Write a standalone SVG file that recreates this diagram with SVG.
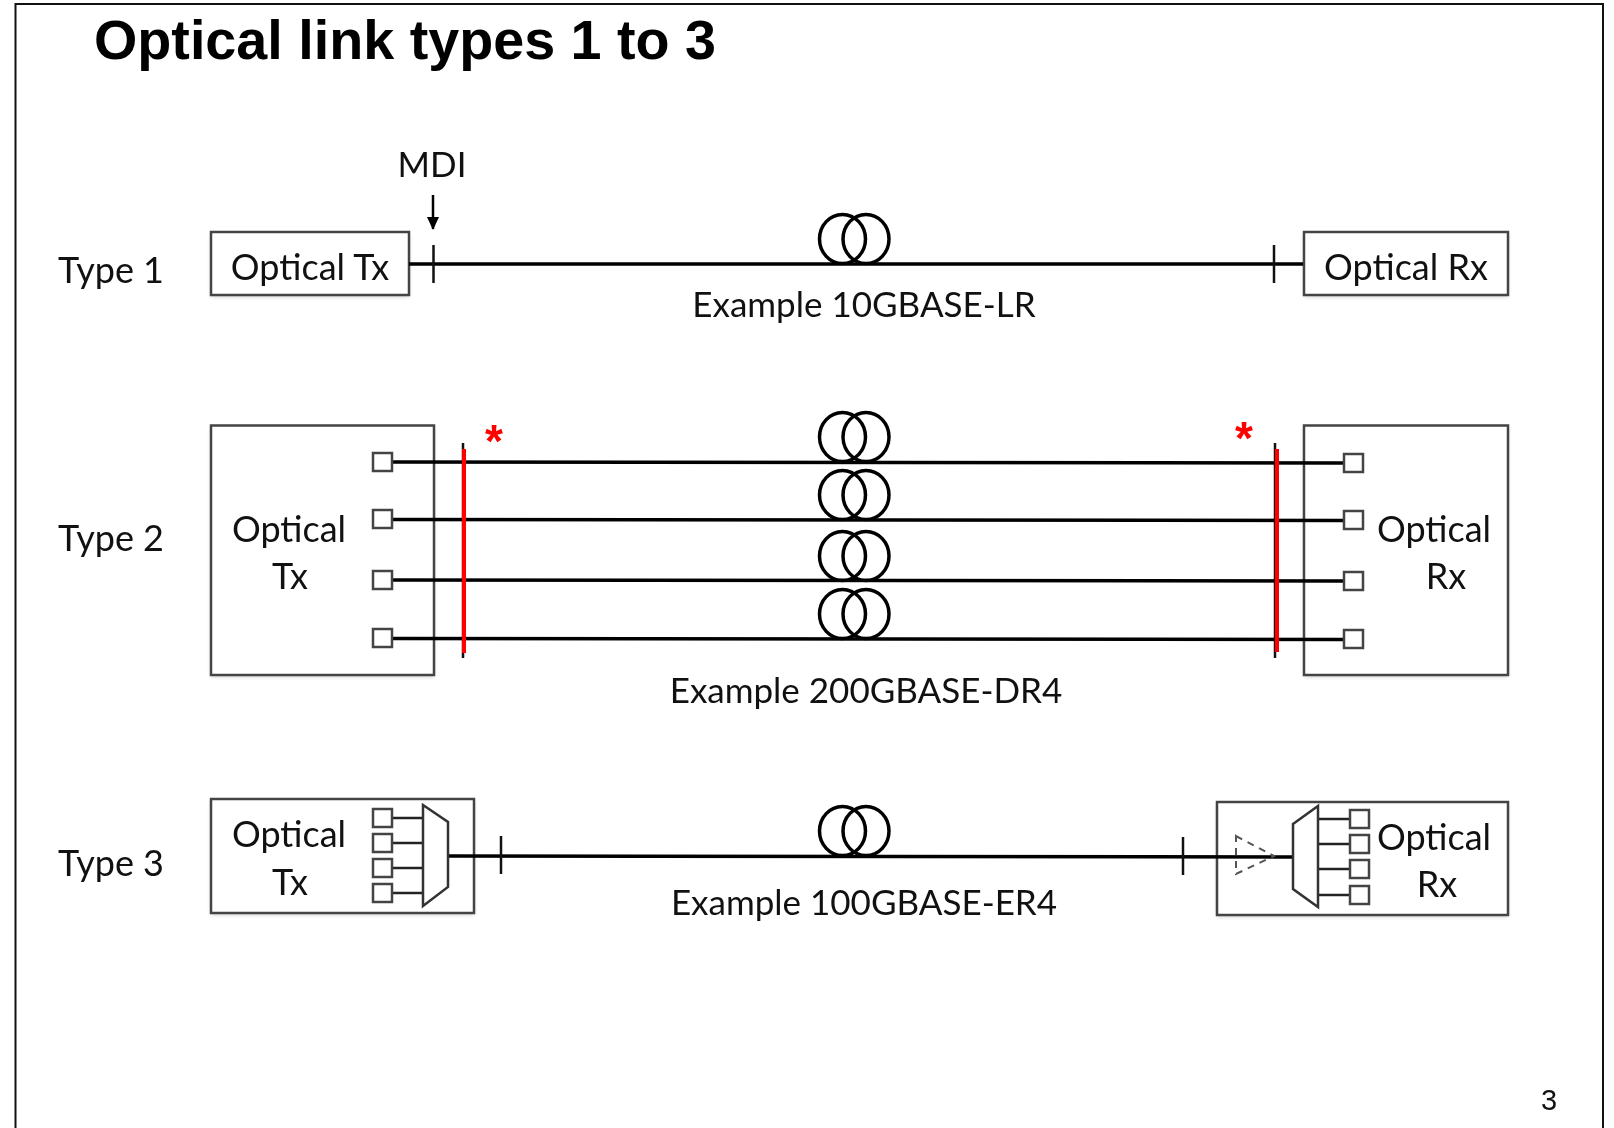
<svg xmlns="http://www.w3.org/2000/svg" width="1614" height="1128" viewBox="0 0 1614 1128">
<style>
text{font-family:"Lato","Liberation Sans",sans-serif;font-size:35px;fill:#111}
.l{font-size:36px}
.m{text-anchor:middle}
.box{fill:#fff;stroke:#444;stroke-width:2.500}
.bs{fill:#000;opacity:.18;filter:url(#sh)}
.sq{fill:#fff;stroke:#444;stroke-width:2.500}
.mux{fill:#fff;stroke:#333;stroke-width:2.500}
.f{stroke:#000;stroke-width:3.500;fill:none}
.t{stroke:#111;stroke-width:2.500;fill:none}
.s{stroke:#222;stroke-width:2.500;fill:none}
.r{stroke:#f00;stroke-width:4;fill:none}
.c{fill:none;stroke:#000;stroke-width:3.500}
.star{fill:#f00;font-family:"Liberation Sans",sans-serif;font-weight:bold;font-size:46px}
</style>
<defs>
<filter id="sh" x="-5%" y="-5%" width="110%" height="115%" color-interpolation-filters="sRGB"><feGaussianBlur stdDeviation="2"/></filter>
<filter id="soft" filterUnits="userSpaceOnUse" x="0" y="0" width="1614" height="1128" color-interpolation-filters="sRGB"><feGaussianBlur stdDeviation=".7"/></filter>
<marker id="ah" markerWidth="14" markerHeight="12" refX="12" refY="6" orient="auto" markerUnits="userSpaceOnUse"><path d="M0 0L13 6L0 12Z" fill="#000"/></marker>
<g id="coil"><ellipse cx="842.500" cy="0" rx="23" ry="24.500" class="c"/><ellipse cx="866" cy="0" rx="23" ry="24.500" class="c"/></g>
</defs>
<rect width="1614" height="1128" fill="#fff"/>
<g filter="url(#soft)">
<path id="frame" d="M15.500 1128V4H1603V1128" fill="none" stroke="#111" stroke-width="2"/>
<text id="title" x="94" y="58.500" style="font-family:'Liberation Sans',sans-serif;font-weight:bold;font-size:55.700px;fill:#000">Optical link types 1 to 3</text>
<text class="l" x="58" y="283">Type 1</text><text class="l" x="58" y="551">Type 2</text><text class="l" x="58" y="876">Type 3</text>
<text class="m" x="432" y="177">MDI</text>
<text class="m" x="864" y="317">Example 10GBASE-LR</text>
<text class="m" x="866" y="703">Example 200GBASE-DR4</text>
<text class="m" x="864" y="915">Example 100GBASE-ER4</text>
<text class="m" x="1549" y="1110" style="font-family:'Liberation Sans',sans-serif;font-size:29px">3</text>

<g id="tx1"><rect class="bs" x="211" y="234" width="198" height="63"/><rect class="box" x="211" y="232" width="198" height="63"/><text class="l m" x="310" y="279.500">Optical Tx</text></g>
<g id="rx1"><rect class="bs" x="1304" y="234" width="204" height="63"/><rect class="box" x="1304" y="232" width="204" height="63"/><text class="l m" x="1406" y="279.500">Optical Rx</text></g>
<g id="tx2"><rect class="bs" x="211" y="427" width="223" height="250"/><rect class="box" x="211" y="425.500" width="223" height="249.500"/><text class="l m" x="289" y="541.500">Optical</text><text class="l m" x="290" y="589">Tx</text></g>
<g id="rx2"><rect class="bs" x="1304" y="427" width="204" height="250"/><rect class="box" x="1304" y="425.500" width="204" height="249.500"/><text class="l m" x="1434" y="541.500">Optical</text><text class="l m" x="1446" y="589">Rx</text></g>
<g id="tx3"><rect class="bs" x="211" y="801" width="263" height="114"/><rect class="box" x="211" y="799" width="263" height="114"/><text class="l m" x="289" y="846.500">Optical</text><text class="l m" x="290" y="895">Tx</text></g>
<g id="rx3"><rect class="bs" x="1217" y="804" width="291" height="113"/><rect class="box" x="1217" y="802" width="291" height="113"/><text class="l m" x="1434" y="849.500">Optical</text><text class="l m" x="1437" y="897">Rx</text></g>

<g id="connectors">
<line class="f" x1="409" y1="264" x2="1303" y2="264"/>
<line class="t" x1="433.500" y1="245" x2="433.500" y2="283"/>
<line class="t" x1="1274" y1="245" x2="1274" y2="283"/>
<line x1="433" y1="195" x2="433" y2="229" stroke="#000" stroke-width="2.500" marker-end="url(#ah)"/>
<line class="f" x1="392" y1="462" x2="1343" y2="463"/>
<line class="f" x1="392" y1="519.500" x2="1343" y2="520.500"/>
<line class="f" x1="392" y1="580" x2="1343" y2="581"/>
<line class="f" x1="392" y1="638.500" x2="1343" y2="639.500"/>
<line class="t" x1="463" y1="443" x2="463" y2="658"/>
<line class="t" x1="1275" y1="443" x2="1275" y2="658"/>
<line class="r" x1="464" y1="449" x2="464" y2="653"/>
<line class="r" x1="1277" y1="449" x2="1277" y2="652"/>
<line class="f" x1="448" y1="856" x2="1293" y2="857"/>
<line class="t" x1="501" y1="836" x2="501" y2="874"/>
<line class="t" x1="1183" y1="837" x2="1183" y2="875"/>
<path class="s" d="M392 818H423M392 843H423M392 868H423M392 893H423"/>
<path class="s" d="M1318 819H1350M1318 844H1350M1318 869H1350M1318 895H1350"/>
</g>

<g id="coils">
<use href="#coil" y="239"/><use href="#coil" y="437"/><use href="#coil" y="495"/><use href="#coil" y="556"/><use href="#coil" y="614"/><use href="#coil" y="831"/>
</g>
<g id="ports-tx2"><rect class="sq" x="373" y="453" width="19" height="18"/><rect class="sq" x="373" y="510" width="19" height="18"/><rect class="sq" x="373" y="571" width="19" height="18"/><rect class="sq" x="373" y="629" width="19" height="18"/></g>
<g id="ports-rx2"><rect class="sq" x="1344" y="454" width="19" height="18"/><rect class="sq" x="1344" y="511" width="19" height="18"/><rect class="sq" x="1344" y="572" width="19" height="18"/><rect class="sq" x="1344" y="630" width="19" height="18"/></g>
<g id="ports-tx3"><rect class="sq" x="373" y="809" width="19" height="18"/><rect class="sq" x="373" y="834" width="19" height="18"/><rect class="sq" x="373" y="859" width="19" height="18"/><rect class="sq" x="373" y="884" width="19" height="18"/></g>
<g id="ports-rx3"><rect class="sq" x="1350" y="810" width="19" height="18"/><rect class="sq" x="1350" y="835" width="19" height="18"/><rect class="sq" x="1350" y="860" width="19" height="18"/><rect class="sq" x="1350" y="886" width="19" height="18"/></g>
<polygon id="mux-tx" class="mux" points="423,805 448,822 448,887 423,906"/>
<polygon id="mux-rx" class="mux" points="1293,824 1318,806 1318,907 1293,889"/>
<polygon id="amp" points="1236,836 1274,856 1236,874" fill="none" stroke="#555" stroke-width="2" stroke-dasharray="7 6"/>
<text class="star" x="485" y="457">*</text>
<text class="star" x="1235" y="454">*</text>
</g>
</svg>
